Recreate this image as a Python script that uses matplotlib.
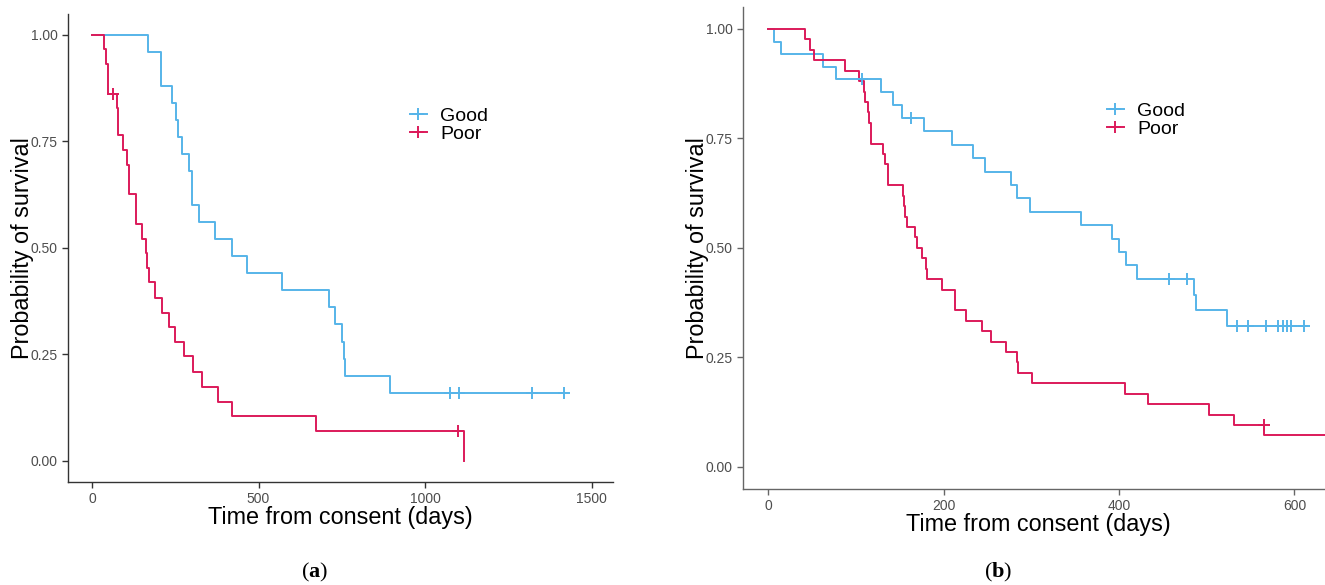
import matplotlib

matplotlib.use("Agg")
import matplotlib.pyplot as plt  # noqa: E402
from matplotlib.lines import Line2D  # noqa: E402

plt.rcParams["font.family"] = ["Liberation Sans", "DejaVu Sans"]
plt.rcParams["mathtext.fontset"] = "custom"
plt.rcParams["mathtext.rm"] = "Liberation Serif"
plt.rcParams["mathtext.bf"] = "Liberation Serif:bold"

GOOD_COLOR = "#56B4E9"
POOR_COLOR = "#DC1A5A"

# --- panel (a) ---
a_good_t = [0, 167, 207, 240, 252, 258, 269, 290, 300, 320, 369, 420, 466, 570,
            711, 729, 752, 756, 760, 895]
a_good_s = [1.00, 0.96, 0.88, 0.84, 0.80, 0.76, 0.72, 0.68, 0.60, 0.56, 0.52, 0.48,
            0.44, 0.40, 0.36, 0.32, 0.28, 0.24, 0.20, 0.16]
a_good_end = 1418
a_good_cens = [1075, 1103, 1320, 1418]

a_poor_t = [0, 37, 42, 47, 76, 79, 92, 104, 111, 133, 149, 162, 166, 170, 189, 209,
            231, 249, 275, 302, 330, 377, 420, 672, 1116]
a_poor_s = [1.00, 0.966, 0.931, 0.862, 0.828, 0.764, 0.730, 0.695, 0.627, 0.556,
            0.521, 0.487, 0.452, 0.419, 0.382, 0.347, 0.313, 0.278, 0.245, 0.209,
            0.174, 0.139, 0.106, 0.070, 0.0]
a_poor_end = 1116
a_poor_cens = [63, 1099]

# --- panel (b) ---
b_good_t = [0, 7, 14.5, 62.5, 77.5, 129, 142, 152, 178, 210, 233, 247, 277, 284, 298,
            357, 392, 400, 408, 420, 485, 488, 523]
b_good_s = [1.00, 0.971, 0.943, 0.914, 0.886, 0.856, 0.827, 0.797, 0.766, 0.736,
            0.705, 0.674, 0.644, 0.613, 0.582, 0.552, 0.521, 0.490, 0.460, 0.429,
            0.393, 0.357, 0.322]
b_good_end = 614
b_good_cens = [107, 163, 457, 478, 534, 547, 568, 581, 587, 592, 596, 611]

b_poor_t = [0, 41.5, 47, 52.6, 87, 103, 109, 110, 114, 115, 116.6, 117.3, 130.7, 133,
            136.4, 153.9, 154.7, 156.2, 157.7, 167.2, 169.1, 174.9, 179.5, 181.3,
            197.7, 212.6, 225.9, 243.8, 253.7, 271.6, 284, 285.3, 300.4, 406.9,
            432.8, 502.1, 531, 565.4]
b_poor_at_risk = [42, 41, 40, 39, 38, 37, 36, 35, 34, 33, 32, 31, 30, 29, 27, 26, 25,
                  24, 23, 22, 21, 20, 19, 18, 17, 15, 14, 13, 12, 11, 10, 9, 8, 7, 6,
                  5, 4, 3]
b_poor_s = [k / 42 for k in b_poor_at_risk]
b_poor_end = 660
b_poor_cens = [565]


def km(ax, t, s, end, cens, color):
    ts = list(t) + [end]
    ss = list(s) + [s[-1]]
    ax.step(ts, ss, where="post", color=color, lw=1.4, zorder=3)
    cy = [s[max(i for i, ti in enumerate(t) if ti <= c)] for c in cens]
    ax.plot(cens, cy, ls="none", marker="+", ms=8, mew=1.4, color=color, zorder=4)


def style(ax, spine_color):
    for side in ("top", "right"):
        ax.spines[side].set_visible(False)
    for side in ("left", "bottom"):
        ax.spines[side].set_color(spine_color)
        ax.spines[side].set_linewidth(1.0)
    ax.set_ylim(-0.05, 1.05)
    ax.set_yticks([0, 0.25, 0.5, 0.75, 1.0])
    ax.set_yticklabels(["0.00", "0.25", "0.50", "0.75", "1.00"])
    ax.tick_params(colors=spine_color, labelcolor="#4D4D4D", labelsize=10,
                   length=4, width=1.0)
    ax.set_ylabel("Probability of survival", fontsize=16.8, labelpad=-2)
    ax.set_xlabel("Time from consent (days)", fontsize=16.8, labelpad=0)


def legend(ax, fig, x_px, y_px):
    handles = [Line2D([], [], color=GOOD_COLOR, lw=1.4, marker="+", ms=8, mew=1.4),
               Line2D([], [], color=POOR_COLOR, lw=1.4, marker="+", ms=8, mew=1.4)]
    ax.legend(handles, ["Good", "Poor"], loc="upper left", frameon=False,
              bbox_to_anchor=(x_px / 1325, 1 - y_px / 585),
              bbox_transform=fig.transFigure, fontsize=14, borderpad=0,
              borderaxespad=0, handlelength=0.85, handletextpad=0.7,
              labelspacing=0.05)


fig = plt.figure(figsize=(13.25, 5.85), dpi=100)

ax1 = fig.add_axes([68.3 / 1325, 103 / 585, 545 / 1325, 468.3 / 585])
km(ax1, a_good_t, a_good_s, a_good_end, a_good_cens, GOOD_COLOR)
km(ax1, a_poor_t, a_poor_s, a_poor_end, a_poor_cens, POOR_COLOR)
ax1.set_xlim(-71, 1565)
ax1.set_xticks([0, 500, 1000, 1500])
style(ax1, "#333333")
legend(ax1, fig, 410, 107)

ax2 = fig.add_axes([743.3 / 1325, 96.4 / 585, 591 / 1325, 481.5 / 585])
km(ax2, b_good_t, b_good_s, b_good_end, b_good_cens, GOOD_COLOR)
km(ax2, b_poor_t, b_poor_s, b_poor_end, b_poor_cens, POOR_COLOR)
ax2.set_xlim(-28.5, 645.5)
ax2.set_xticks([0, 200, 400, 600])
style(ax2, "#666666")
legend(ax2, fig, 1107, 102)

fig.text(315 / 1325, 1 - 572 / 585, r"$(\mathbf{a})$", fontsize=16,
         ha="center", va="center")
fig.text(998 / 1325, 1 - 572 / 585, r"$(\mathbf{b})$", fontsize=16,
         ha="center", va="center")

fig.savefig("out.png", dpi=100)
